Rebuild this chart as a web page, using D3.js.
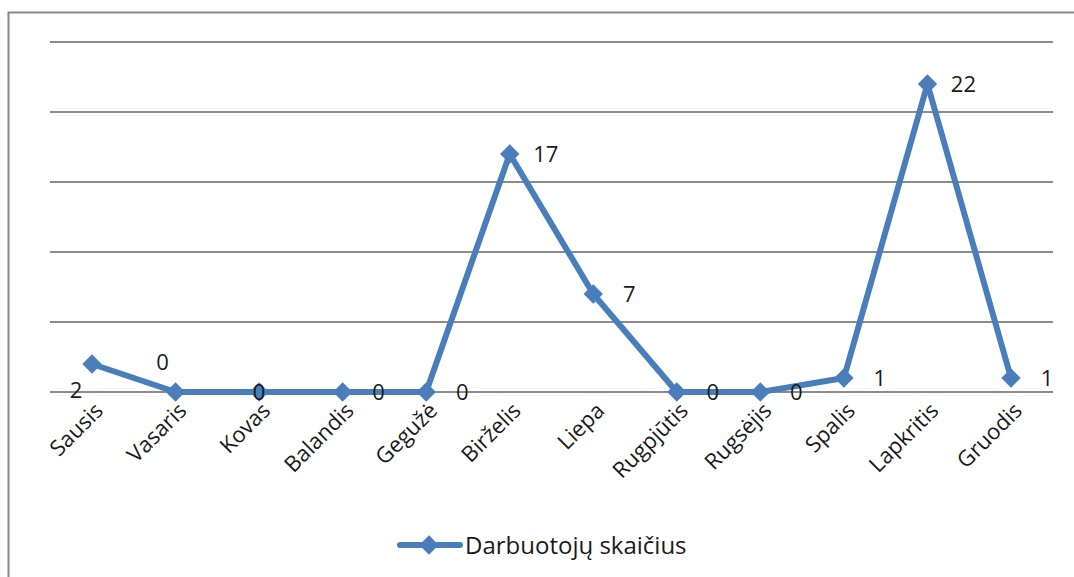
<!DOCTYPE html>
<html>
<head>
<meta charset="utf-8">
<script src="https://cdn.jsdelivr.net/npm/d3@7"></script>
<style>
  body { margin: 0; background: #fff; }
  svg { display: block; }
</style>
</head>
<body>
<svg id="chart"></svg>
<script>
// month names and employee counts
const months = ["Sausis", "Vasaris", "Kovas", "Balandis", "Gegužė", "Birželis",
    "Liepa", "Rugpjūtis", "Rugsėjis", "Spalis", "Lapkritis", "Gruodis"];
const counts = [2, 0, 0, 0, 0, 17, 7, 0, 0, 1, 22, 1];
const yTicks = [0, 5, 10, 15, 20, 25];
const seriesName = "Darbuotojų skaičius";
// where Excel put each data label
const labelPlace = ["belowLeft", "aboveLeft", "center", "right", "right", "right",
    "right", "right", "right", "right", "right", "right"];

const width = 1074, height = 577;
const color = "#4a7ebb";
const font = "'Open Sans', 'Noto Sans', sans-serif";

const svg = d3.select("#chart").attr("width", width).attr("height", height);

// outer frame (right/bottom sides fall outside the picture)
svg.append("rect")
    .attr("x", 8.5).attr("y", 12.5)
    .attr("width", width + 20).attr("height", height + 20)
    .attr("fill", "none").attr("stroke", "#888").attr("stroke-width", 2);

const xScale = d3.scalePoint()
    .domain(months)
    .range([92, 1011]);

const yScale = d3.scaleLinear()
    .domain([0, 25])
    .range([392, 42]);

// gridlines
svg.append("g")
    .selectAll("line")
    .data(yTicks).enter()
    .append("line")
    .attr("x1", 50).attr("x2", 1053)
    .attr("y1", d => yScale(d)).attr("y2", d => yScale(d))
    .attr("stroke", "#8c8c8c")
    .attr("stroke-width", 2);

// x axis labels, rotated
const xAxis = d3.axisBottom(xScale).tickSize(0).tickPadding(0);
const gx = svg.append("g")
    .attr("transform", `translate(0, ${yScale(0)})`)
    .call(xAxis);
gx.select(".domain").remove();
gx.selectAll("text")
    .attr("font-family", font)
    .attr("font-size", "22px")
    .attr("fill", "#1a1a1a")
    .attr("text-anchor", "end")
    .attr("dy", null)
    .attr("transform", "translate(12, 20) rotate(-45)");

// line
const line = d3.line()
    .x((d, i) => xScale(months[i]))
    .y(d => yScale(d));

svg.append("path")
    .datum(counts)
    .attr("d", line)
    .attr("fill", "none")
    .attr("stroke", color)
    .attr("stroke-width", 6)
    .attr("stroke-linejoin", "round");

// diamond markers
const diamond = d3.symbol().type(d3.symbolDiamond2).size(240);
svg.append("g")
    .selectAll("path")
    .data(counts).enter()
    .append("path")
    .attr("d", diamond)
    .attr("transform", (d, i) => `translate(${xScale(months[i])}, ${yScale(d)})`)
    .attr("fill", color);

// data labels
const offsets = {
    right: [36, 8],
    belowLeft: [-16, 34],
    aboveLeft: [-13, -22],
    center: [0, 8]
};
svg.append("g")
    .selectAll("text")
    .data(counts).enter()
    .append("text")
    .attr("x", (d, i) => xScale(months[i]) + offsets[labelPlace[i]][0])
    .attr("y", (d, i) => yScale(d) + offsets[labelPlace[i]][1])
    .attr("text-anchor", "middle")
    .attr("font-family", font)
    .attr("font-size", "22px")
    .attr("fill", "#1a1a1a")
    .text(d => d);

// legend
const legend = svg.append("g").attr("transform", "translate(400, 545)");
legend.append("line")
    .attr("x1", 0).attr("x2", 60)
    .attr("stroke", color).attr("stroke-width", 6)
    .attr("stroke-linecap", "round");
legend.append("path")
    .attr("d", diamond)
    .attr("transform", "translate(29, 0)")
    .attr("fill", color);
legend.append("text")
    .attr("x", 65).attr("y", 9)
    .attr("font-family", font)
    .attr("font-size", "24px")
    .attr("fill", "#1a1a1a")
    .text(seriesName);
</script>
</body>
</html>
